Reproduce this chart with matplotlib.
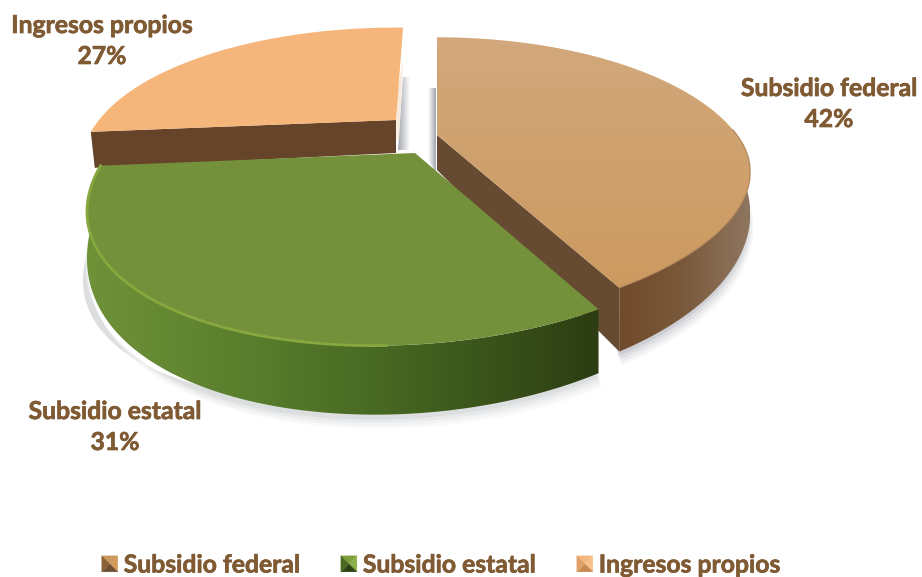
import matplotlib
matplotlib.use('Agg')
import matplotlib.pyplot as plt
import numpy as np
from matplotlib import patheffects
from matplotlib.colors import LinearSegmentedColormap
from matplotlib.legend_handler import HandlerBase
from matplotlib.patches import Patch, Polygon

# data
categories = ['Subsidio federal', 'Subsidio estatal', 'Ingresos propios']
values = [42, 31, 27]

# look of the slices
apex = [(437, 135), (415, 153), (396, 120)]
rot_start = [0, -1.5, 1.8]
rot_end = [-2, 1.8, 1.8]
radius_x = [300, 306, 297]
radius_y = [129, 131, 122]
top_colors = [('#d2a87c', '#cc9a60'), ('#74913b', '#74913b'), ('#f6b67c', '#f6b67a')]
label_pos = [(829, 104), (115, 427), (102, 41)]
legend_cols = [('#c9965c', '#d49a5a', '#6f4f33', '#8a6238'),
               ('#7d9e3c', '#8fb04a', '#2e4312', '#4a6a20'),
               ('#f4b87e', '#f8c08a', '#c88a50', '#e0a068')]

text_color = '#7f5a33'
font = ['Lato', 'DejaVu Sans']

K, SHEAR = 0.32, 40


def project(center, theta, rx, ry):
    # circle seen in perspective, theta clockwise from the back of the pie
    u = np.sin(np.radians(theta))
    v = -np.cos(np.radians(theta))
    w = 1 - K * v
    x = center[0] + rx * u / w - SHEAR * np.clip(v, 0, None) ** 2
    return x, center[1] + ry * v / w, v


def depth(v):
    return 32 + 37 * np.clip(v, 0, None)


def gradient_fill(ax, xs, ys, colors, horizontal=True, zorder=2):
    poly = Polygon(np.column_stack([xs, ys]), closed=True, fc='none', ec='none')
    ax.add_patch(poly)
    cmap = LinearSegmentedColormap.from_list('g', colors)
    ramp = np.linspace(0, 1, 200)
    ramp = ramp[None, :] if horizontal else ramp[:, None]
    im = ax.imshow(ramp, cmap=cmap, aspect='auto', zorder=zorder, interpolation='bilinear',
                   extent=(min(xs), max(xs), max(ys), min(ys)))
    im.set_clip_path(poly)


class PyramidHandler(HandlerBase):
    def create_artists(self, legend, orig, xd, yd, width, height, fontsize, trans):
        colors = orig.pyramid
        s = width
        x0 = -xd
        y0 = -yd + (height - s) / 2
        c = (x0 + s / 2, y0 + s / 2)
        tl, tr = (x0, y0 + s), (x0 + s, y0 + s)
        bl, br = (x0, y0), (x0 + s, y0)
        tris = [(tl, tr), (tr, br), (br, bl), (bl, tl)]
        arts = []
        for (p, q), col in zip(tris, colors):
            arts.append(Polygon([p, q, c], closed=True, fc=col, ec=col, lw=0.2, transform=trans))
        return arts


fig = plt.figure(figsize=(9.22, 5.77), dpi=100)
ax = fig.add_axes([0, 0, 1, 1])

bounds = np.cumsum([0] + values) / sum(values) * 360
slices = []
for i in range(len(values)):
    th = np.linspace(bounds[i] + rot_start[i], bounds[i + 1] + rot_end[i], 200)
    slices.append(project(apex[i], th, radius_x[i], radius_y[i]))

# soft shadows under the front of the pie
for i, col, keep_from in [(0, '#8f939c', -0.1), (1, '#b4b6ba', 0.25)]:
    x, y, v = slices[i]
    d = depth(v)
    for off, a in [(14, 0.07), (11, 0.10), (8, 0.14), (5, 0.2)]:
        xs = np.r_[x - 4 + off * 0.5, x[::-1] - 4]
        ys = np.r_[y + d + off, y[::-1] + d]
        keep = v > keep_from
        keep2 = np.r_[keep, keep[::-1]]
        ax.fill(xs[keep2], ys[keep2], color=col, alpha=a, lw=0, zorder=1)

# thin grey shadows in the gap between the slices
gradient_fill(ax, [403, 410, 410, 398], [77, 77, 150, 150], ['#a2a6ae', '#ffffff'], zorder=1)
gradient_fill(ax, [428, 436, 436, 428], [88, 88, 172, 160], ['#ffffff', '#a2a6ae'], zorder=1)

# peach slice: wall along the cut, then top
x, y, v = slices[2]
ax.fill([x[0], apex[2][0], apex[2][0], x[0] + 4], [y[0], apex[2][1], apex[2][1] + 33, y[0] + 36],
        color='#66442a', lw=0, zorder=3)
ax.fill([403, 399, 397, 396], [60, 140, 140, 100], color='#f7e9dc', lw=0, zorder=3)
gradient_fill(ax, np.r_[apex[2][0], x], np.r_[apex[2][1], y], top_colors[2], horizontal=False, zorder=4)

# federal slice: cut wall, round wall, top
x, y, v = slices[0]
d = depth(v)
ax.fill([apex[0][0], x[-1], x[-1], apex[0][0]],
        [apex[0][1], y[-1], y[-1] + d[-1], apex[0][1] + 35],
        color='#664a32', lw=0, zorder=5)
front = v > -0.05
gradient_fill(ax, np.r_[x[front], x[front][::-1]], np.r_[y[front], (y + d)[front][::-1]],
              ['#704a2b', '#7b5a3c', '#8f7660'], zorder=5)
gradient_fill(ax, np.r_[apex[0][0], x], np.r_[apex[0][1], y], top_colors[0], horizontal=False, zorder=6)
ax.plot(x[front], y[front], color='#a9794c', lw=1.0, alpha=0.6, zorder=6)

# green slice: round wall, top, light rim
x, y, v = slices[1]
d = depth(v)
gradient_fill(ax, np.r_[x, x[::-1]], np.r_[y, (y + d)[::-1]],
              ['#6f9138', '#587d2c', '#41601f', '#2c3d12'], zorder=7)
gradient_fill(ax, np.r_[apex[1][0], x], np.r_[apex[1][1], y], top_colors[1], horizontal=False, zorder=8)
ax.plot(x[50:], y[50:], color='#86a83f', lw=2.0, zorder=8)

# labels
stroke = [patheffects.withStroke(linewidth=0.5, foreground=text_color)]
for name, val, (lx, ly) in zip(categories, values, label_pos):
    ax.text(lx, ly, f'{name}\n{val}%', ha='center', va='center', family=font, weight='bold',
            fontsize=17.8, color=text_color, linespacing=1.42, zorder=10, path_effects=stroke)

ax.set_xlim(0, 922)
ax.set_ylim(577, 0)
ax.axis('off')

# legend with little bevelled squares
handles = []
for name, cols in zip(categories, legend_cols):
    h = Patch(label=name)
    h.pyramid = cols
    handles.append(h)
leg = ax.legend(handles=handles, ncols=3, frameon=False, loc='center',
                bbox_to_anchor=(441 / 922, 1 - 565 / 577), handler_map={Patch: PyramidHandler()},
                prop={'family': font, 'weight': 'bold', 'size': 17.8},
                labelcolor=text_color, handlelength=0.65, handletextpad=0.24, columnspacing=1.66,
                borderpad=0, borderaxespad=0)
for t in leg.get_texts():
    t.set_path_effects(stroke)

fig.savefig('out.png', dpi=100)
